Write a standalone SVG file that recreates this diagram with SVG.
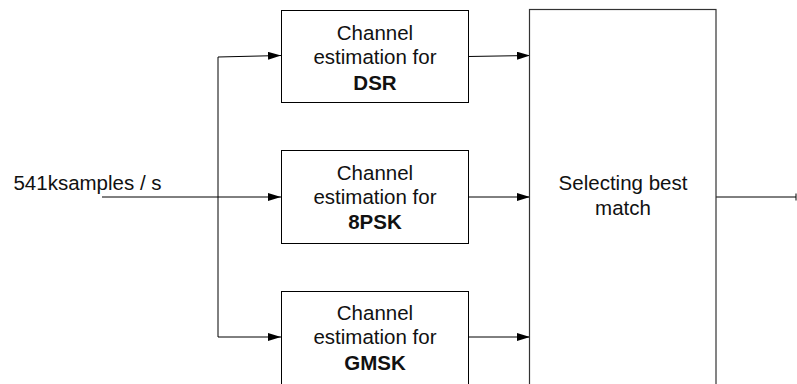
<svg xmlns="http://www.w3.org/2000/svg" width="797" height="384" viewBox="0 0 797 384">
<style>
.box{fill:#fff;stroke:#000;stroke-width:1}
.big{fill:#fff;stroke:#333;stroke-width:1.2}
.ln{fill:none;stroke:#000;stroke-width:1}
text{font-family:"Liberation Sans",Arial,sans-serif;font-size:20.5px;fill:#111;text-anchor:middle}
.b{font-weight:bold}
</style>
<defs>
<marker id="ah" markerWidth="13" markerHeight="8" refX="13" refY="4" orient="auto" markerUnits="userSpaceOnUse">
<path d="M0,0 L13,4 L0,8 Z" fill="#000"/>
</marker>
</defs>
<g id="connectors">
<line class="ln" x1="102" y1="197" x2="281" y2="197" marker-end="url(#ah)"/>
<polyline class="ln" points="218,337 218,57 281,55.5" marker-end="url(#ah)"/>
<line class="ln" x1="218" y1="337" x2="281" y2="337" marker-end="url(#ah)"/>
<line class="ln" x1="468" y1="56.5" x2="530" y2="55.5" marker-end="url(#ah)"/>
<line class="ln" x1="468" y1="197" x2="530" y2="197" marker-end="url(#ah)"/>
<line class="ln" x1="468" y1="337" x2="530" y2="337" marker-end="url(#ah)"/>
<line class="ln" x1="716" y1="197" x2="796" y2="197"/>
<line class="ln" x1="796" y1="193.5" x2="796" y2="200.5" stroke-width="1.5"/>
</g>
<g id="input-label">
<text x="87.5" y="190">541ksamples / s</text>
</g>
<g id="dsr">
<rect class="box" x="281.5" y="10.5" width="187" height="92"/>
<text x="375" y="40">Channel</text>
<text x="375" y="64">estimation for</text>
<text x="375" y="90" class="b">DSR</text>
</g>
<g id="psk8">
<rect class="box" x="281.5" y="150.5" width="187" height="93"/>
<text x="375" y="180">Channel</text>
<text x="375" y="204">estimation for</text>
<text x="375" y="229" class="b">8PSK</text>
</g>
<g id="gmsk">
<rect class="box" x="281.5" y="291.5" width="187" height="100"/>
<text x="375" y="320">Channel</text>
<text x="375" y="344">estimation for</text>
<text x="375" y="370" class="b">GMSK</text>
</g>
<g id="select">
<rect class="big" x="529.5" y="9.5" width="186.5" height="385"/>
<text x="623" y="190">Selecting best</text>
<text x="623" y="215">match</text>
</g>
</svg>
